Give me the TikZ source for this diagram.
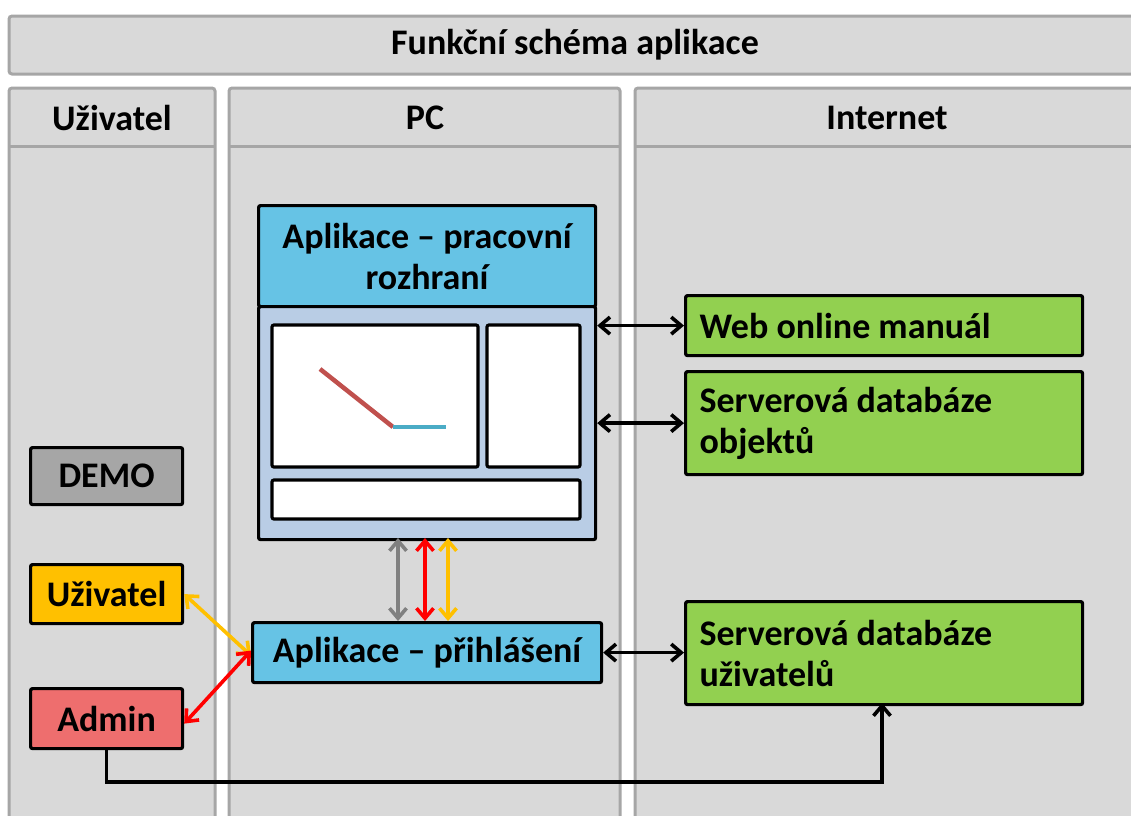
\documentclass[tikz,border=0pt]{standalone}
\usepackage{fontspec}
\setmainfont{Carlito}
\usetikzlibrary{arrows.meta}
\definecolor{colfill}{HTML}{D9D9D9}
\definecolor{colbd}{HTML}{A6A6A6}
\definecolor{demogray}{HTML}{A6A6A6}
\definecolor{userorange}{HTML}{FFC000}
\definecolor{adminred}{HTML}{EE6E6E}
\definecolor{appcyan}{HTML}{66C3E5}
\definecolor{appbody}{HTML}{B9CDE5}
\definecolor{netgreen}{HTML}{92D050}
\definecolor{linered}{HTML}{C0504D}
\definecolor{lineblue}{HTML}{4BACC6}
\tikzset{
  colbox/.style={draw=colbd, fill=colfill, line width=3, rounded corners=3},
  bbox/.style={draw=black, line width=3.2, rounded corners=2, anchor=north west, inner sep=0, align=center},
  wbox/.style={draw=black, line width=3.2, rounded corners=2, fill=white},
  gbox/.style={bbox, fill=netgreen, align=flush left, inner xsep=14},
  hdr/.style={font=\bfseries\fontsize{36}{41}\selectfont},
  arr/.style={line width=3.6, {Straight Barb[length=10,width=17]}-{Straight Barb[length=10,width=17]}},
}
\begin{document}
\begin{tikzpicture}[x=1pt, y=-1pt, font=\bfseries\fontsize{36}{41}\selectfont]
\useasboundingbox (0,0) rectangle (1131,815);
\fill[white] (0,0) rectangle (1131,815);
\clip (0,0) rectangle (1131,815);
% title
\draw[colbox] (9,16) rectangle (1142,74);
\node[hdr] (title) at (575,45) {Funkční schéma aplikace};
% columns
\draw[colbox] (9,88) rectangle (215,860);
\draw[draw=colbd, line width=3] (9,146) -- (215,146);
\node[hdr] (huz) at (112,118) {Uživatel};
\draw[colbox] (229,88) rectangle (620,860);
\draw[draw=colbd, line width=3] (229,146) -- (620,146);
\node[hdr] (hpc) at (425,118) {PC};
\draw[colbox] (635,88) rectangle (1142,860);
\draw[draw=colbd, line width=3] (635,146) -- (1142,146);
\node[hdr] (hnet) at (887,118) {Internet};
% application window
\node[bbox, fill=appcyan, minimum width=337, minimum height=101] (apph) at (257,204) {Aplikace – pracovní\\rozhraní};
\node[bbox, fill=appbody, minimum width=337, minimum height=233] (appb) at (257,305) {};
\draw[wbox] (272,325) rectangle (478,467);
\draw[wbox] (487,325) rectangle (580,467);
\draw[wbox] (272,480) rectangle (580,519);
\draw[linered, line width=4.5] (320,369) -- (393,427);
\draw[lineblue, line width=4.5] (393,427) -- (446,427);
% users
\node[bbox, fill=demogray, minimum width=152, minimum height=57] (demo) at (29,446) {DEMO};
\node[bbox, fill=userorange, minimum width=152, minimum height=59] (user) at (29,563) {Uživatel};
\node[bbox, fill=adminred, minimum width=152, minimum height=60] (admin) at (29,687) {Admin};
% login
\node[bbox, fill=appcyan, minimum width=349, minimum height=60] (login) at (251,621) {Aplikace – přihlášení};
% internet
\node[gbox, text width=369, minimum width=397, minimum height=60] (web) at (684,294) {Web online manuál};
\node[gbox, text width=369, minimum width=397, minimum height=103] (objdb) at (684,370) {Serverová databáze\\objektů};
\node[gbox, text width=369, minimum width=397, minimum height=103] (userdb) at (684,600) {Serverová databáze\\uživatelů};
% connectors
\draw[arr] (appb.east |- web.west) -- (web.west);
\draw[arr] (appb.east |- objdb.west) -- (objdb.west);
\draw[arr] (login.east) -- (login.east -| userdb.west);
\draw[arr, color=gray] (398,538) coordinate (g1) -- (g1 |- login.north);
\draw[arr, color=red] (425,538) coordinate (r1) -- (r1 |- login.north);
\draw[arr, color=userorange] (448,538) coordinate (o1) -- (o1 |- login.north);
\draw[arr, color=userorange] (user.east) -- ([yshift=-3]login.west);
\draw[arr, color=red] ([yshift=2]login.west) -- ([yshift=-5]admin.east);
\draw[line width=3.6, -{Straight Barb[length=10,width=17]}] (admin.south) |- (882,782) -- (882,703);
\end{tikzpicture}
\end{document}
